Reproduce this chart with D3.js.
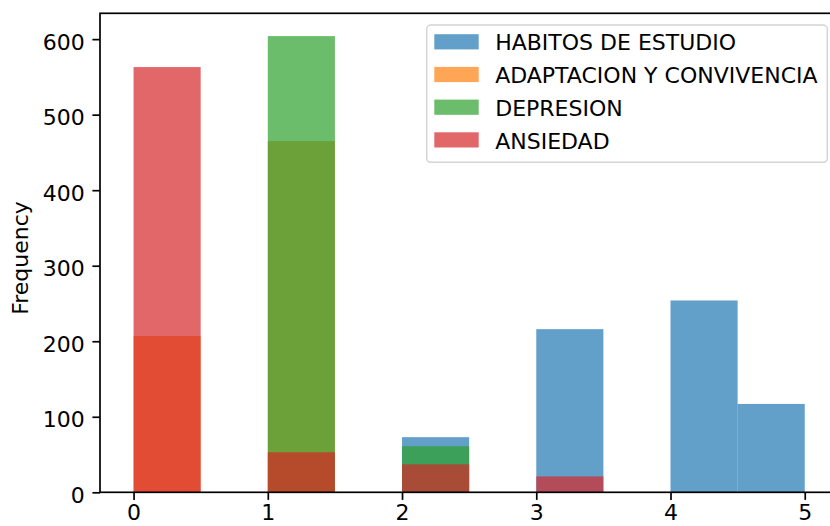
<!DOCTYPE html>
<html>
<head>
<meta charset="utf-8">
<script src="https://cdn.jsdelivr.net/npm/d3@7"></script>
<style>
  html, body { margin: 0; padding: 0; background: #fff; overflow: hidden; }
  svg { display: block; font-family: "DejaVu Sans", sans-serif; }
</style>
</head>
<body>
<svg id="chart" width="830" height="526"></svg>
<script>
// Histogram bin edges (10 bins of width 0.5 over 0..5)
const binEdges = [0, 0.5, 1, 1.5, 2, 2.5, 3, 3.5, 4, 4.5, 5];

// Counts per bin for each column
const seriesNames = ["HABITOS DE ESTUDIO", "ADAPTACION Y CONVIVENCIA", "DEPRESION", "ANSIEDAD"];
const habitos     = [0, 0, 0, 0, 73, 0, 216, 0, 254, 117];
const adaptacion  = [207, 0, 465, 0, 0, 0, 0, 0, 0, 0];
const depresion   = [0, 0, 604, 0, 61, 0, 0, 0, 0, 0];
const ansiedad    = [563, 0, 53, 0, 37, 0, 21, 0, 0, 0];
const seriesColors = ["#1f77b4", "#ff7f0e", "#2ca02c", "#d62728"];

const xTicks = [0, 1, 2, 3, 4, 5];
const yTicks = [0, 100, 200, 300, 400, 500, 600];

const series = [habitos, adaptacion, depresion, ansiedad];

const fs = 22;
const plot = { left: 100, top: 13.3, right: 838.3, bottom: 492.3 };

const svg = d3.select("#chart");

const x = d3.scaleLinear()
  .domain([-0.25, 5.25])
  .range([plot.left, plot.right]);

const yMax = d3.max(series.flat()) * 1.05;
const y = d3.scaleLinear()
  .domain([0, yMax])
  .range([plot.bottom, plot.top]);

// Bars: each column drawn over the previous with partial transparency
series.forEach((counts, si) => {
  svg.append("g")
    .selectAll("rect")
    .data(counts.map((c, i) => ({ c, x0: binEdges[i], x1: binEdges[i + 1] })).filter(d => d.c > 0))
    .join("rect")
    .attr("x", d => x(d.x0))
    .attr("width", d => x(d.x1) - x(d.x0))
    .attr("y", d => y(d.c))
    .attr("height", d => y(0) - y(d.c))
    .attr("fill", seriesColors[si])
    .attr("fill-opacity", 0.7);
});

// Axes
const tickLen = 7.6;
const yAxis = svg.append("g")
  .attr("transform", `translate(${plot.left},0)`)
  .call(d3.axisLeft(y).tickValues(yTicks).tickSize(tickLen).tickSizeOuter(0).tickFormat(d3.format("d")));
yAxis.select(".domain").remove();
yAxis.selectAll(".tick line").attr("stroke", "#000").attr("stroke-width", 1.7);
yAxis.selectAll(".tick text")
  .attr("x", -15.2).attr("dy", null).attr("y", 10)
  .attr("font-size", fs).attr("fill", "#000")
  .attr("font-family", "DejaVu Sans");

const xAxis = svg.append("g")
  .attr("transform", `translate(0,${plot.bottom})`)
  .call(d3.axisBottom(x).tickValues(xTicks).tickSize(tickLen).tickSizeOuter(0).tickFormat(d3.format("d")));
xAxis.select(".domain").remove();
xAxis.selectAll(".tick line").attr("stroke", "#000").attr("stroke-width", 1.7);
xAxis.selectAll(".tick text")
  .attr("dy", null).attr("y", 27.5)
  .attr("font-size", fs).attr("fill", "#000")
  .attr("font-family", "DejaVu Sans");

// Spines
svg.append("rect")
  .attr("x", plot.left).attr("y", plot.top)
  .attr("width", plot.right - plot.left).attr("height", plot.bottom - plot.top)
  .attr("fill", "none").attr("stroke", "#000").attr("stroke-width", 1.7);

// Y axis label
svg.append("text")
  .attr("transform", `translate(28,258) rotate(-90)`)
  .attr("text-anchor", "middle")
  .attr("font-size", fs)
  .attr("fill", "#000")
  .text("Frequency");

// Legend
const legend = svg.append("g");
legend.append("rect")
  .attr("x", 426.7).attr("y", 25)
  .attr("width", 400.6).attr("height", 137.3)
  .attr("rx", 4).attr("ry", 4)
  .attr("fill", "#fff").attr("fill-opacity", 0.8)
  .attr("stroke", "#d4d4d4").attr("stroke-width", 1.5);

const rowH = 32.7;
const rows = legend.selectAll("g.entry")
  .data(seriesNames)
  .join("g")
  .attr("class", "entry")
  .attr("transform", (d, i) => `translate(0,${41.8 + i * rowH})`);
rows.append("rect")
  .attr("x", 434.3).attr("y", -7.6)
  .attr("width", 44.4).attr("height", 15.2)
  .attr("fill", (d, i) => seriesColors[i])
  .attr("fill-opacity", 0.7);
rows.append("text")
  .attr("x", 495.2).attr("y", 8.6)
  .attr("font-size", fs)
  .attr("fill", "#000")
  .text(d => d);
</script>
</body>
</html>
